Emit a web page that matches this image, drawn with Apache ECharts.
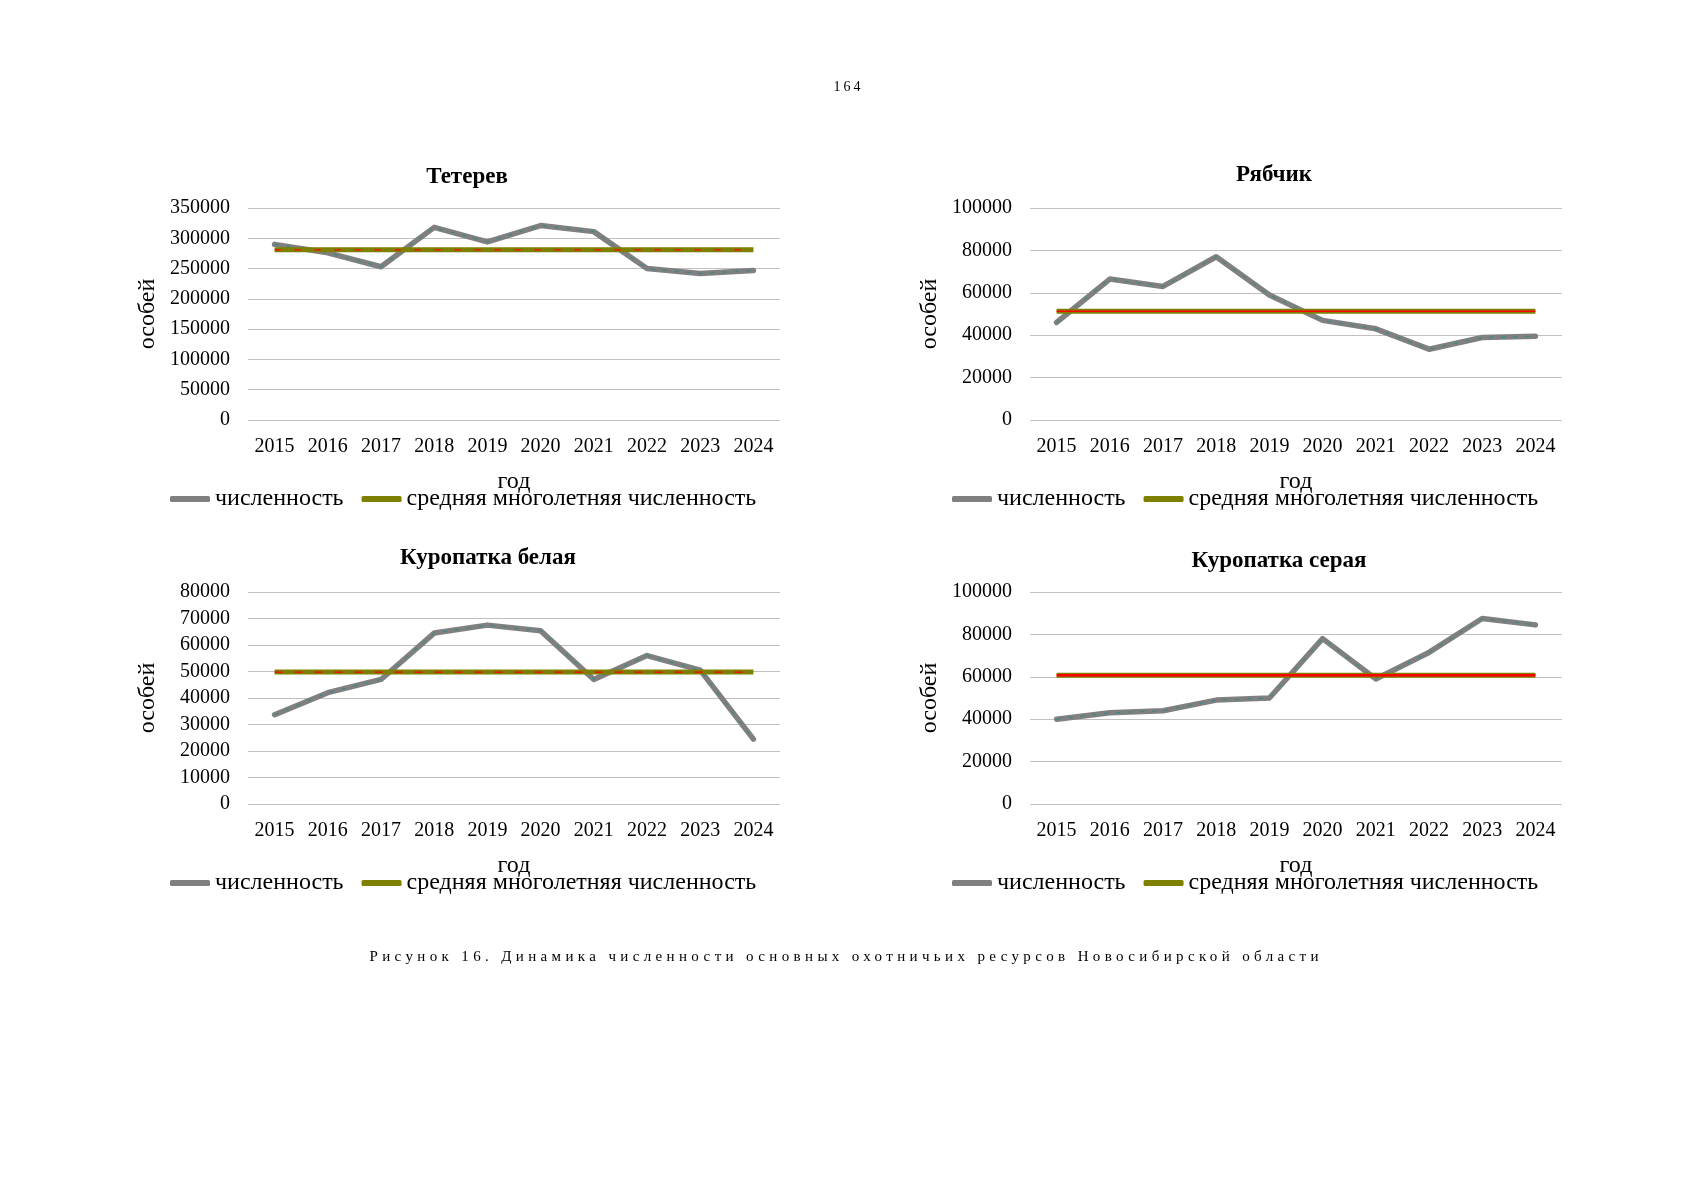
<!DOCTYPE html>
<html>
<head>
<meta charset="utf-8">
<script src="https://cdn.jsdelivr.net/npm/echarts@6/dist/echarts.min.js"></script>
<style>
html,body{margin:0;padding:0;background:#fff;}
#wrap{position:relative;width:1697px;height:1200px;overflow:hidden;}
#chart{position:absolute;left:0;top:0;width:1697px;height:1200px;}
.txt{position:absolute;font-family:"Liberation Serif","Times New Roman",serif;color:#000;white-space:nowrap;line-height:1;}
</style>
</head>
<body>
<div id="wrap">
  <div id="chart"></div>
  <div id="pagenum" class="txt"></div>
  <div id="caption" class="txt"></div>
</div>
<script>
// ---------- DATA ----------
const years = ['2015','2016','2017','2018','2019','2020','2021','2022','2023','2024'];

const tetValues = [290000, 276000, 253000, 318000, 294000, 321000, 311000, 250000, 242000, 247000];
const tetAvg    = [281000, 281000, 281000, 281000, 281000, 281000, 281000, 281000, 281000, 281000];

const ryabValues = [46000, 66500, 63000, 77000, 59000, 47000, 43000, 33400, 38900, 39500];
const ryabAvg    = [51300, 51300, 51300, 51300, 51300, 51300, 51300, 51300, 51300, 51300];

const belValues = [33700, 42000, 47000, 64500, 67500, 65400, 47000, 56000, 50500, 24500];
const belAvg    = [49800, 49800, 49800, 49800, 49800, 49800, 49800, 49800, 49800, 49800];

const serValues = [40000, 43000, 44000, 49000, 50000, 78000, 59000, 71500, 87500, 84500];
const serAvg    = [60700, 60700, 60700, 60700, 60700, 60700, 60700, 60700, 60700, 60700];

const titles = ['Тетерев', 'Рябчик', 'Куропатка белая', 'Куропатка серая'];
const yMax = [350000, 100000, 80000, 100000];
const yStep = [50000, 20000, 10000, 20000];
const seriesNames = ['численность', 'средняя многолетняя численность'];
const yAxisName = 'особей';
const xAxisName = 'год';
const pageNumber = '164';
const captionText = 'Рисунок 16. Динамика численности основных охотничьих ресурсов Новосибирской области';

// ---------- LAYOUT ----------
const FONT = '"Liberation Serif","Times New Roman",serif';
const valuesList = [tetValues, ryabValues, belValues, serValues];
const avgList = [tetAvg, ryabAvg, belAvg, serAvg];
const layout = [
  {grid:{left:248, top:208, width:532, height:212}, title:[467,177], legend:[170,487], red:{type:[6,14], width:1.2}, olive:5},
  {grid:{left:1030, top:208, width:532, height:212}, title:[1274,175], legend:[952,487], red:{type:'solid', width:1.6}, olive:5},
  {grid:{left:248, top:592, width:532, height:212}, title:[488,558], legend:[170,871], red:{type:[8,12], width:1.2}, olive:5},
  {grid:{left:1030, top:592, width:532, height:212}, title:[1279,561], legend:[952,871], red:{type:'solid', width:2.5}, olive:5}
];

const grids = [], xAxes = [], yAxes = [], series = [], legends = [], graphics = [];
layout.forEach((L, i) => {
  grids.push(Object.assign({containLabel:false}, L.grid));
  xAxes.push({
    type:'category', gridIndex:i, data:years, boundaryGap:true,
    axisLine:{show:false}, axisTick:{show:false},
    axisLabel:{color:'#000', fontFamily:FONT, fontSize:20, margin:17, interval:0},
    name:xAxisName, nameLocation:'middle', nameGap:50,
    nameTextStyle:{color:'#000', fontFamily:FONT, fontSize:24}
  });
  yAxes.push({
    type:'value', gridIndex:i, min:0, max:yMax[i], interval:yStep[i],
    axisLine:{show:false}, axisTick:{show:false},
    splitLine:{show:true, lineStyle:{color:'#c0c0c0', width:1}},
    axisLabel:{color:'#000', fontFamily:FONT, fontSize:20, margin:18, padding:[7,0,0,0], formatter:v => String(v)},
    name:yAxisName, nameLocation:'middle', nameGap:88, nameRotate:90,
    nameTextStyle:{color:'#000', fontFamily:FONT, fontSize:24}
  });
  series.push({
    name:seriesNames[0], type:'line', xAxisIndex:i, yAxisIndex:i, data:valuesList[i],
    symbol:'none', z:2, lineStyle:{color:'#808080', width:5.5, cap:'round', join:'round'},
    itemStyle:{color:'#808080'}
  });
  series.push({
    name:'_n' + i, type:'line', xAxisIndex:i, yAxisIndex:i, data:valuesList[i],
    symbol:'none', z:3, silent:true, lineStyle:{color:'#2a8a8a', width:1, type:[4,8]}
  });
  series.push({
    name:seriesNames[1], type:'line', xAxisIndex:i, yAxisIndex:i, data:avgList[i],
    symbol:'none', z:4, lineStyle:{color:'#808000', width:L.olive, cap:'butt'},
    itemStyle:{color:'#808000'}
  });
  series.push({
    name:'_a' + i, type:'line', xAxisIndex:i, yAxisIndex:i, data:avgList[i],
    symbol:'none', z:5, silent:true, lineStyle:{color:'#ff0000', width:L.red.width, type:L.red.type}
  });
  legends.push({
    data:[{name:seriesNames[0], icon:'roundRect'}, {name:seriesNames[1], icon:'roundRect'}],
    left:L.legend[0], top:L.legend[1], orient:'horizontal', padding:0,
    itemWidth:40, itemHeight:6, itemGap:18, selectedMode:false,
    textStyle:{color:'#000', fontFamily:FONT, fontSize:24}
  });
  graphics.push({
    type:'text', x:L.title[0], y:L.title[1],
    style:{text:titles[i], fill:'#000', font:'bold 23px ' + FONT, align:'center', verticalAlign:'middle'}
  });
});

const chart = echarts.init(document.getElementById('chart'), null, {renderer:'canvas'});
chart.setOption({
  animation:false,
  backgroundColor:'#fff',
  grid:grids, xAxis:xAxes, yAxis:yAxes, series:series, legend:legends,
  graphic:graphics
});

// ---------- page texts ----------
const pn = document.getElementById('pagenum');
pn.textContent = pageNumber;
pn.style.fontSize = '14px';
pn.style.letterSpacing = '3px';
pn.style.left = (847 - pn.offsetWidth / 2 + 1.5) + 'px';
pn.style.top = (87 - 7) + 'px';

const cap = document.getElementById('caption');
cap.textContent = captionText;
cap.style.fontSize = '15px';
const natural = cap.offsetWidth;
const targetW = 953;
const ls = (targetW - natural) / captionText.length;
cap.style.letterSpacing = ls + 'px';
cap.style.left = (846 - targetW / 2) + 'px';
cap.style.top = (957 - 8) + 'px';
</script>
</body>
</html>
